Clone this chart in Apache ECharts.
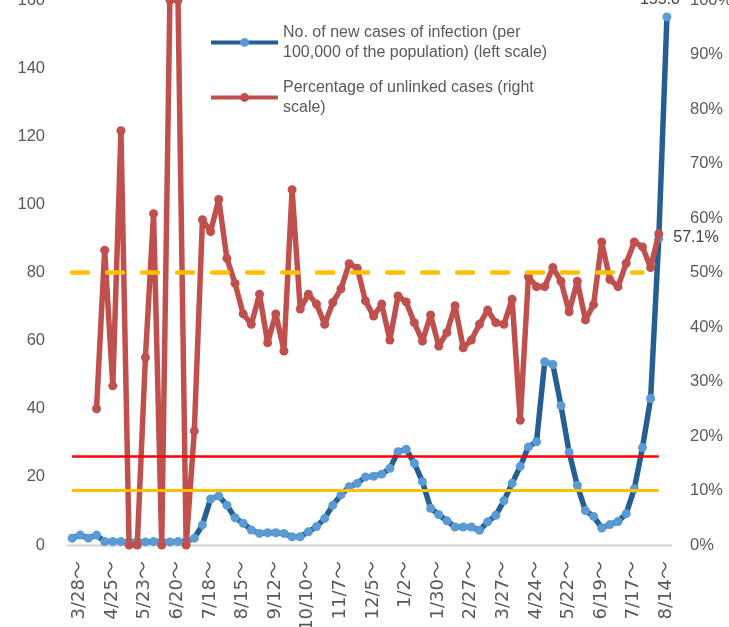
<!DOCTYPE html>
<html><head><meta charset="utf-8">
<script src="https://cdn.jsdelivr.net/npm/echarts@6/dist/echarts.min.js"></script>
<style>html,body{margin:0;padding:0;background:#fff}#c{width:729px;height:627px}</style>
</head><body><div id="c"></div>
<script>
// Weekly categories (week starting)
const categories = ['3/28～','4/4～','4/11～','4/18～','4/25～','5/2～','5/9～','5/16～','5/23～','5/30～',
  '6/6～','6/13～','6/20～','6/27～','7/4～','7/11～','7/18～','7/25～','8/1～','8/8～',
  '8/15～','8/22～','8/29～','9/5～','9/12～','9/19～','9/26～','10/3～','10/10～','10/17～',
  '10/24～','10/31～','11/7～','11/14～','11/21～','11/28～','12/5～','12/12～','12/19～','12/26～',
  '1/2～','1/9～','1/16～','1/23～','1/30～','2/6～','2/13～','2/20～','2/27～','3/6～',
  '3/13～','3/20～','3/27～','4/3～','4/10～','4/17～','4/24～','5/1～','5/8～','5/15～',
  '5/22～','5/29～','6/5～','6/12～','6/19～','6/26～','7/3～','7/10～','7/17～','7/24～',
  '7/31～','8/7～','8/14～','8/21～'];

// New cases per 100,000 population (left scale)
const newCasesPer100k = [2.0,2.9,2.0,2.9,1.0,1.0,1.0,0.9,1.0,0.9,
  1.0,1.0,0.9,1.0,1.0,2.0,5.9,13.5,14.4,11.7,
  8.0,6.4,4.4,3.4,3.6,3.6,3.4,2.4,2.4,3.9,
  5.4,7.8,11.7,14.7,17.1,18.1,20.0,20.2,20.8,22.5,
  27.4,28.1,24.0,18.6,10.8,8.9,7.1,5.3,5.3,5.3,
  4.3,6.8,8.7,13.0,18.1,23.1,28.8,30.3,53.8,53.0,
  40.9,27.2,17.5,10.1,8.4,5.0,6.0,6.9,9.2,16.5,
  28.6,43.0,90.0,155.0];

// Percentage of unlinked cases (right scale, %)
const unlinkedPct = [null,null,null,25.0,54.1,29.2,76.0,0,0,34.4,
  60.8,0,100,100,0,20.9,59.7,57.5,63.4,52.6,
  48.0,42.4,40.5,46.0,37.1,42.4,35.6,65.2,43.3,46.0,
  44.2,40.5,44.5,47.0,51.6,50.8,44.8,42.0,44.2,37.6,
  45.7,44.6,40.8,37.4,42.2,36.5,39.0,43.9,36.2,37.6,
  40.5,43.1,40.8,40.5,45.1,22.9,49.2,47.4,47.4,50.9,
  48.4,42.8,48.4,41.3,44.1,55.6,48.7,47.4,51.7,55.6,
  54.7,50.9,57.1,null];

const leftTicks = {min: 0, max: 160, interval: 20};
const rightTicks = {min: 0, max: 100, interval: 10};
const redLevel = 26;
const yellowLevel = 16.2;
const unlinkedLevelPct = 50;
const redLineEnd = 72;
const dashedLineEnd = 70;

const nameCases = 'No. of new cases of infection (per\n100,000 of the population) (left scale)';
const nameUnlinked = 'Percentage of unlinked cases (right\nscale)';

const FONT = '"Liberation Sans", Arial, sans-serif';
const lastCases = newCasesPer100k.length - 1;
let lastPct = unlinkedPct.length - 1;
while (unlinkedPct[lastPct] == null) lastPct--;

const casesData = newCasesPer100k.map((v, i) => i === lastCases ? {
  value: v,
  label: {show: true, position: 'top', offset: [-7, 0], formatter: p => p.value.toFixed(1),
    fontFamily: FONT, fontSize: 16, color: '#404040'}
} : v);
const pctData = unlinkedPct.map((v, i) => i === lastPct ? {
  value: v,
  label: {show: true, position: 'right', distance: 10, offset: [0, 4], formatter: p => p.value.toFixed(1) + '%',
    fontFamily: FONT, fontSize: 16, color: '#404040'}
} : v);

const chart = echarts.init(document.getElementById('c'), null, {renderer: 'canvas'});
chart.setOption({
  animation: false,
  backgroundColor: '#ffffff',
  grid: {left: 68, right: 58, top: 0, bottom: 82, containLabel: false, outerBoundsMode: 'none'},
  legend: {
    data: [nameCases, nameUnlinked],
    orient: 'vertical', left: 204, top: 18,
    itemWidth: 67, itemHeight: 11, itemGap: 16,
    selectedMode: false,
    lineStyle: {width: 4},
    textStyle: {fontFamily: FONT, fontSize: 16, lineHeight: 19.5, color: '#595959'}
  },
  xAxis: {
    type: 'category', data: categories, boundaryGap: true,
    axisLine: {show: true, lineStyle: {color: '#D9D9D9', width: 2.5}},
    axisTick: {show: false},
    axisLabel: {interval: 3, rotate: 90, margin: 16, verticalAlign: 'top', lineHeight: 15,
      fontFamily: '"DejaVu Sans", "Noto Sans CJK JP", sans-serif',
      fontSize: 18, color: '#595959'}
  },
  yAxis: [
    {type: 'value', min: leftTicks.min, max: leftTicks.max, interval: leftTicks.interval,
      axisLine: {show: false}, axisTick: {show: false}, splitLine: {show: false},
      axisLabel: {margin: 23, fontFamily: FONT, fontSize: 16.5, color: '#595959'}},
    {type: 'value', min: rightTicks.min, max: rightTicks.max, interval: rightTicks.interval, position: 'right',
      axisLine: {show: false}, axisTick: {show: false}, splitLine: {show: false},
      axisLabel: {margin: 19, fontFamily: FONT, fontSize: 16.5, color: '#595959', formatter: '{value}%'}}
  ],
  series: [
    {
      name: 'levels', type: 'line', z: 1, data: [], xAxisIndex: 0, yAxisIndex: 0, silent: true,
      markLine: {
        silent: true, symbol: 'none', label: {show: false},
        data: [
          [{coord: [0, redLevel], lineStyle: {color: '#FF0000', width: 2.5, type: 'solid'}}, {coord: [redLineEnd, redLevel]}],
          [{coord: [0, yellowLevel], lineStyle: {color: '#FFC000', width: 3, type: 'solid'}}, {coord: [redLineEnd, yellowLevel]}]
        ]
      }
    },
    {
      name: 'pctLevel', type: 'line', z: 1, data: [], xAxisIndex: 0, yAxisIndex: 1, silent: true,
      markLine: {
        silent: true, symbol: 'none', label: {show: false},
        data: [
          [{coord: [0, unlinkedLevelPct], lineStyle: {color: '#FFC000', width: 4.5, type: [16, 19], cap: 'round'}}, {coord: [dashedLineEnd, unlinkedLevelPct]}]
        ]
      }
    },
    {
      name: nameCases, type: 'line', z: 2, yAxisIndex: 0, data: casesData,
      symbol: 'circle', symbolSize: 9, showAllSymbol: true,
      lineStyle: {color: '#255E91', width: 5.5, join: 'round'},
      itemStyle: {color: '#5B9BD5', borderWidth: 0}
    },
    {
      name: nameUnlinked, type: 'line', z: 3, yAxisIndex: 1, data: pctData,
      symbol: 'circle', symbolSize: 9, showAllSymbol: true, connectNulls: false,
      lineStyle: {color: '#C0504D', width: 5.5, join: 'round'},
      itemStyle: {color: '#C0504D', borderWidth: 0}
    }
  ]
});
</script>
</body></html>
